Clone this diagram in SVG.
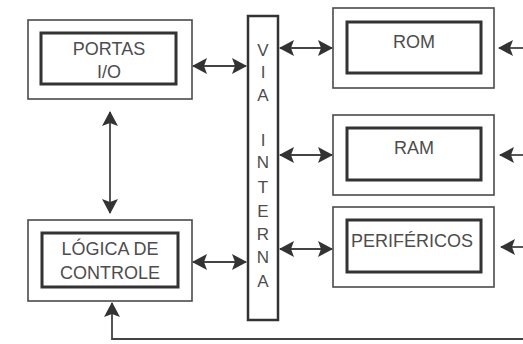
<svg xmlns="http://www.w3.org/2000/svg" width="523" height="344" viewBox="0 0 523 344">
<style>
.outer{fill:#fff;stroke:#4a4a4a;stroke-width:1.6}
.inner{fill:#fff;stroke:#333;stroke-width:3}
.lbl{font-family:"Liberation Sans",Arial,sans-serif;font-size:18px;fill:#4d4d4d;text-anchor:middle}
.bus{fill:#fff;stroke:#333;stroke-width:2.5}
.bl{font-family:"Liberation Sans",Arial,sans-serif;font-size:17px;fill:#4d4d4d;text-anchor:middle}
.ln{fill:none;stroke:#444;stroke-width:1.8}
</style>
<defs>
<marker id="ah" viewBox="0 0 15 16" refX="14" refY="8" markerWidth="15" markerHeight="16" markerUnits="userSpaceOnUse" orient="auto-start-reverse">
<path d="M0,0 L15,8 L0,16 L3,8 Z" fill="#333"/>
</marker>
</defs>
<rect width="523" height="344" fill="#fff"/>
<g id="connectors">
<line class="ln" x1="193" y1="66" x2="246" y2="66" marker-start="url(#ah)" marker-end="url(#ah)"/>
<line class="ln" x1="193" y1="262" x2="246" y2="262" marker-start="url(#ah)" marker-end="url(#ah)"/>
<line class="ln" x1="110" y1="112" x2="110" y2="213" marker-start="url(#ah)" marker-end="url(#ah)"/>
<line class="ln" x1="280" y1="48" x2="332" y2="48" marker-start="url(#ah)" marker-end="url(#ah)"/>
<line class="ln" x1="280" y1="155" x2="332" y2="155" marker-start="url(#ah)" marker-end="url(#ah)"/>
<line class="ln" x1="280" y1="249" x2="332" y2="249" marker-start="url(#ah)" marker-end="url(#ah)"/>
<line class="ln" x1="523" y1="48" x2="499" y2="48" marker-end="url(#ah)"/>
<line class="ln" x1="523" y1="155" x2="500" y2="155" marker-end="url(#ah)"/>
<line class="ln" x1="523" y1="247" x2="501" y2="247" marker-end="url(#ah)"/>
<polyline class="ln" points="523,339 112,339 112,303" marker-end="url(#ah)"/>
</g>
<g id="portas">
<rect class="outer" x="28" y="20" width="164" height="79"/>
<rect class="inner" x="41" y="33" width="135" height="51"/>
<text class="lbl" x="109" y="55">PORTAS</text>
<text class="lbl" x="109" y="78">I/O</text>
</g>
<g id="logica">
<rect class="outer" x="28" y="220" width="164" height="81"/>
<rect class="inner" x="42" y="233" width="136" height="54"/>
<text class="lbl" x="110" y="255">LÓGICA DE</text>
<text class="lbl" x="110" y="279">CONTROLE</text>
</g>
<g id="via">
<rect class="bus" x="248" y="16" width="30" height="304"/>
<text class="bl" x="263" y="56">V</text>
<text class="bl" x="263" y="78">I</text>
<text class="bl" x="263" y="101">A</text>
<text class="bl" x="263" y="146">I</text>
<text class="bl" x="263" y="168">N</text>
<text class="bl" x="263" y="193">T</text>
<text class="bl" x="263" y="217">E</text>
<text class="bl" x="263" y="240">R</text>
<text class="bl" x="263" y="263">N</text>
<text class="bl" x="263" y="287">A</text>
</g>
<g id="rom">
<rect class="outer" x="333" y="8" width="161" height="80"/>
<rect class="inner" x="347" y="22" width="134" height="51"/>
<text class="lbl" x="414" y="48">ROM</text>
</g>
<g id="ram">
<rect class="outer" x="333" y="115" width="161" height="80"/>
<rect class="inner" x="347" y="128" width="134" height="52"/>
<text class="lbl" x="414" y="154">RAM</text>
</g>
<g id="perifericos">
<rect class="outer" x="333" y="207" width="161" height="80"/>
<rect class="inner" x="347" y="220" width="134" height="52"/>
<text class="lbl" x="412" y="247">PERIFÉRICOS</text>
</g>
</svg>
